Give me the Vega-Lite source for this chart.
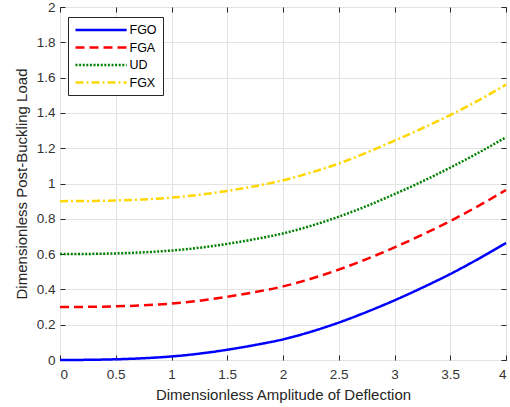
{
  "$schema": "https://vega.github.io/schema/vega-lite/v6.json",
  "width": 446,
  "height": 353,
  "autosize": {"type": "none"},
  "padding": {"left": 60, "top": 7, "right": 4, "bottom": 47},
  "background": "white",
  "config": {
    "font": "Liberation Sans",
    "view": {"stroke": "#262626", "strokeWidth": 1},
    "axis": {
      "domain": false,
      "gridColor": "#e3e3e3",
      "gridOpacity": 1,
      "tickColor": "#262626",
      "tickSize": -5,
      "labelColor": "#333333",
      "labelFont": "Liberation Sans",
      "labelFontSize": 13.5,
      "titleColor": "#262626",
      "titleFont": "Liberation Sans",
      "titleFontSize": 15,
      "titleFontWeight": "normal"
    }
  },
  "data": {
    "values": [
      {"x": 0, "y": 0, "series": "FGO"},
      {"x": 0.25, "y": 0.001, "series": "FGO"},
      {"x": 0.5, "y": 0.004, "series": "FGO"},
      {"x": 0.75, "y": 0.010, "series": "FGO"},
      {"x": 1, "y": 0.020, "series": "FGO"},
      {"x": 1.25, "y": 0.036, "series": "FGO"},
      {"x": 1.5, "y": 0.058, "series": "FGO"},
      {"x": 1.75, "y": 0.085, "series": "FGO"},
      {"x": 2, "y": 0.117, "series": "FGO"},
      {"x": 2.25, "y": 0.160, "series": "FGO"},
      {"x": 2.5, "y": 0.212, "series": "FGO"},
      {"x": 2.75, "y": 0.272, "series": "FGO"},
      {"x": 3, "y": 0.338, "series": "FGO"},
      {"x": 3.25, "y": 0.410, "series": "FGO"},
      {"x": 3.5, "y": 0.487, "series": "FGO"},
      {"x": 3.75, "y": 0.572, "series": "FGO"},
      {"x": 4, "y": 0.663, "series": "FGO"},
      {"x": 0, "y": 0.300, "series": "FGA"},
      {"x": 0.25, "y": 0.301, "series": "FGA"},
      {"x": 0.5, "y": 0.304, "series": "FGA"},
      {"x": 0.75, "y": 0.310, "series": "FGA"},
      {"x": 1, "y": 0.320, "series": "FGA"},
      {"x": 1.25, "y": 0.336, "series": "FGA"},
      {"x": 1.5, "y": 0.358, "series": "FGA"},
      {"x": 1.75, "y": 0.385, "series": "FGA"},
      {"x": 2, "y": 0.417, "series": "FGA"},
      {"x": 2.25, "y": 0.460, "series": "FGA"},
      {"x": 2.5, "y": 0.512, "series": "FGA"},
      {"x": 2.75, "y": 0.572, "series": "FGA"},
      {"x": 3, "y": 0.638, "series": "FGA"},
      {"x": 3.25, "y": 0.710, "series": "FGA"},
      {"x": 3.5, "y": 0.787, "series": "FGA"},
      {"x": 3.75, "y": 0.872, "series": "FGA"},
      {"x": 4, "y": 0.963, "series": "FGA"},
      {"x": 0, "y": 0.600, "series": "UD"},
      {"x": 0.25, "y": 0.601, "series": "UD"},
      {"x": 0.5, "y": 0.604, "series": "UD"},
      {"x": 0.75, "y": 0.610, "series": "UD"},
      {"x": 1, "y": 0.620, "series": "UD"},
      {"x": 1.25, "y": 0.636, "series": "UD"},
      {"x": 1.5, "y": 0.658, "series": "UD"},
      {"x": 1.75, "y": 0.685, "series": "UD"},
      {"x": 2, "y": 0.717, "series": "UD"},
      {"x": 2.25, "y": 0.760, "series": "UD"},
      {"x": 2.5, "y": 0.812, "series": "UD"},
      {"x": 2.75, "y": 0.872, "series": "UD"},
      {"x": 3, "y": 0.940, "series": "UD"},
      {"x": 3.25, "y": 1.012, "series": "UD"},
      {"x": 3.5, "y": 1.090, "series": "UD"},
      {"x": 3.75, "y": 1.173, "series": "UD"},
      {"x": 4, "y": 1.262, "series": "UD"},
      {"x": 0, "y": 0.900, "series": "FGX"},
      {"x": 0.25, "y": 0.901, "series": "FGX"},
      {"x": 0.5, "y": 0.904, "series": "FGX"},
      {"x": 0.75, "y": 0.910, "series": "FGX"},
      {"x": 1, "y": 0.920, "series": "FGX"},
      {"x": 1.25, "y": 0.936, "series": "FGX"},
      {"x": 1.5, "y": 0.958, "series": "FGX"},
      {"x": 1.75, "y": 0.985, "series": "FGX"},
      {"x": 2, "y": 1.018, "series": "FGX"},
      {"x": 2.25, "y": 1.062, "series": "FGX"},
      {"x": 2.5, "y": 1.113, "series": "FGX"},
      {"x": 2.75, "y": 1.175, "series": "FGX"},
      {"x": 3, "y": 1.243, "series": "FGX"},
      {"x": 3.25, "y": 1.313, "series": "FGX"},
      {"x": 3.5, "y": 1.388, "series": "FGX"},
      {"x": 3.75, "y": 1.470, "series": "FGX"},
      {"x": 4, "y": 1.560, "series": "FGX"}
    ]
  },
  "layer": [
    {
      "mark": {"type": "line", "strokeWidth": 2.5, "interpolate": "monotone", "strokeCap": "butt"},
      "encoding": {
        "x": {
          "field": "x", "type": "quantitative",
          "scale": {"domain": [0, 4], "nice": false, "zero": false},
          "axis": {"orient": "bottom", "values": [0, 0.5, 1, 1.5, 2, 2.5, 3, 3.5, 4], "grid": true, "format": "~g",
                   "title": "Dimensionless Amplitude of Deflection", "labelPadding": 12.5, "titlePadding": 6}
        },
        "y": {
          "field": "y", "type": "quantitative",
          "scale": {"domain": [0, 2], "nice": false},
          "axis": {"orient": "left", "values": [0, 0.2, 0.4, 0.6, 0.8, 1, 1.2, 1.4, 1.6, 1.8, 2], "grid": true, "format": "~g",
                   "title": "Dimensionless Post-Buckling Load", "labelPadding": 10, "titlePadding": 7}
        },
        "color": {
          "field": "series", "type": "nominal",
          "scale": {"domain": ["FGO", "FGA", "UD", "FGX"], "range": ["#0000ff", "#ff0000", "#008000", "#ffd700"]},
          "legend": {
            "title": null, "orient": "none", "legendX": 8, "legendY": 10,
            "fillColor": "white", "strokeColor": "#262626", "padding": 6,
            "symbolType": "M-1,0H8.3", "symbolSize": 121, "symbolStrokeWidth": 2.5,
            "labelFontSize": 12.5, "labelColor": "#000000", "labelOffset": 41.5, "rowPadding": 3.5,
            "labelFont": "Liberation Sans"
          }
        },
        "strokeDash": {
          "field": "series", "type": "nominal",
          "scale": {"domain": ["FGO", "FGA", "UD", "FGX"], "range": [[1, 0], [9, 5], [2, 1.6], [8, 3, 2, 3]]}
        }
      }
    },
    {
      "mark": {"type": "line", "opacity": 0},
      "encoding": {
        "x": {
          "field": "x", "type": "quantitative",
          "axis": {"orient": "top", "values": [0, 0.5, 1, 1.5, 2, 2.5, 3, 3.5, 4], "grid": false, "labels": false, "title": null}
        },
        "y": {
          "field": "y", "type": "quantitative",
          "axis": {"orient": "right", "values": [0, 0.2, 0.4, 0.6, 0.8, 1, 1.2, 1.4, 1.6, 1.8, 2], "grid": false, "labels": false, "title": null}
        },
        "detail": {"field": "series"}
      }
    }
  ],
  "resolve": {"axis": {"x": "independent", "y": "independent"}}
}
